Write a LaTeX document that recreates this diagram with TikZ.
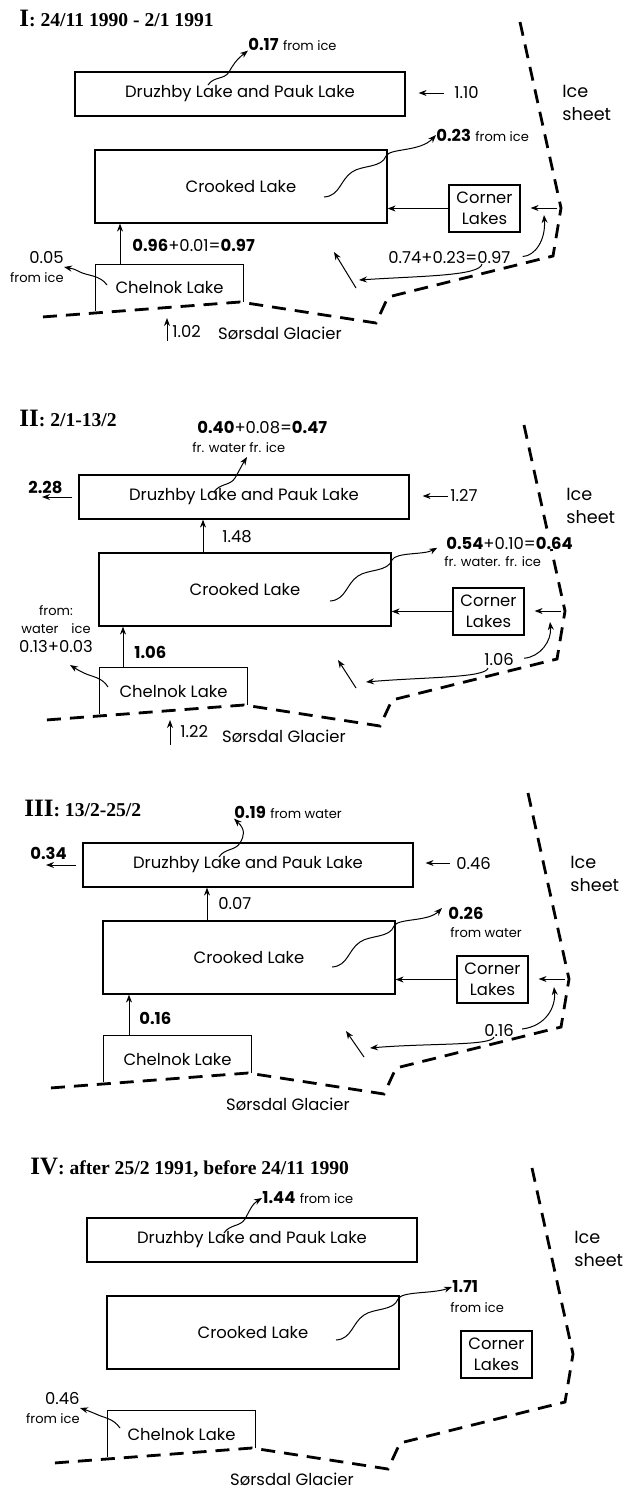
\documentclass[tikz,border=0pt]{standalone}
\usepackage{fontspec}
\setmainfont{Poppins}
\newfontfamily\titlefont{Liberation Serif}
\usetikzlibrary{arrows.meta}
\newcommand\lakefont{\fontsize{8.2}{10.3}\selectfont}
\newcommand\fsm{\fontsize{6.5}{8}\selectfont}
\newcommand\numfont{\fontsize{12.5}{12}\selectfont}
\tikzset{
  lake/.style={draw, line width=0.6pt, inner sep=0pt, font=\lakefont},
  lbl/.style={inner sep=0pt, font=\lakefont, anchor=west},
  ttl/.style={inner sep=0pt, anchor=west, font=\titlefont\bfseries\fontsize{9.8}{11}\selectfont},
  flow/.style={->, line width=0.5pt},
  icel/.style={line width=1.4pt, dash pattern=on 7pt off 4.5pt},
  >={Stealth[length=4pt,width=3pt]}
}
\begin{document}
\begin{tikzpicture}[x=0.5pt, y=-0.5pt]
\useasboundingbox (0,0) rectangle (624,1489);
% lakes, ice edge and glacier, same in all four panels
\foreach \p/\dx/\dy in {1/0/0, 2/4/403, 3/8/771, 4/12/1146} {
\begin{scope}[shift={(\dx,\dy)}]
\node[lake, minimum width=165pt, minimum height=22pt] (dr\p) at (240,94) {Druzhby Lake and Pauk Lake};
\node[lake, minimum width=146pt, minimum height=36.5pt] (cr\p) at (241,186.5) {Crooked Lake};
\node[lake, minimum width=35.5pt, minimum height=23.5pt, align=center] (co\p) at (484.5,208.5) {Corner\\Lakes};
\node[lbl, anchor=center, minimum width=73.5pt, minimum height=23pt] (ch\p) at (169.5,288) {Chelnok Lake};
\draw[line width=0.5pt] (ch\p.south west) |- (ch\p.north east) -- ([yshift=4.5pt]ch\p.south east);
\node[lbl, align=left, font=\fontsize{8.8}{11.5}\selectfont] (is\p) at (562,103) {Ice\\sheet};
\node[lbl, anchor=center] (sg\p) at (280,333) {Sørsdal Glacier};
\draw[icel] (520,22) -- (561,208) -- (553,256) -- (388,297) -- (376,323) -- (240,302) -- (42,317);
\end{scope}
}

% Panel I
\node[ttl] (t1) at (19,18) {{\numfont I}: 24/11 1990 - 2/1 1991};
\node[lbl] (a1) at (248,44) {\textbf{0.17} {\fsm from ice}};
\coordinate (w1) at (208,85);
\draw[flow] (w1) .. controls (214,76) and (224,80) .. (229,72) .. controls (233,65) and (236,60) .. (a1.south west);
\node[lbl] (b1) at (454,93) {1.10};
\draw[flow, shorten <=5pt, shorten >=6.5pt] (b1.west) -- (b1.west -| dr1.east);
\node[lbl] (c1) at (436,135) {\textbf{0.23} {\fsm from ice}};
\coordinate (w2) at (324,197);
\draw[flow] (w2) .. controls (340,196) and (340,180) .. (352,172) .. controls (362,165) and (382,168) .. (386,156) .. controls (390,148) and (420,152) .. (c1.west);
\draw[flow] (co1.west) -- (co1.west -| cr1.east);
\coordinate (e1) at (557,208);
\draw[flow, shorten >=5pt] (e1) -- (e1 -| co1.east);
\node[lbl] (d1) at (388,257) {0.74+0.23=0.97};
\coordinate (e2) at (544,215);
\draw[flow, shorten <=6pt] (d1.east) .. controls (535,256) and (546,240) .. (e2);
\coordinate (e3) at (482,264);
\coordinate (e4) at (359,280);
\draw[flow] (e3) .. controls (480,276) and (420,276) .. (e4);
\coordinate (e5) at (356,288);
\coordinate (e6) at (334,252);
\draw[flow] (e5) -- (e6);
\node[lbl] (f1) at (132,245) {\textbf{0.96}+0.01=\textbf{0.97}};
\coordinate (u1) at (120,265);
\draw[flow] (u1) -- (u1 |- cr1.south);
\node[lbl, align=right, anchor=east, font=\fontsize{8.2}{9.5}\selectfont] (g1) at (64,267) {0.05\\{\fsm from ice}};
\coordinate (w3) at (107,285);
\draw[flow] (w3) .. controls (100,275) and (88,276) .. (80,272) .. controls (74,269) .. (g1.east);
\node[lbl] (h1) at (172,332) {1.02};
\coordinate (e7) at (167,341);
\coordinate (e8) at (167,318);
\draw[flow] (e7) -- (e8);

% Panel II
\begin{scope}[shift={(4,403)}]
\node[ttl] (t2) at (15,15) {{\numfont II}: 2/1-13/2};
\node[lbl] (a2) at (193,25) {\textbf{0.40}+0.08=\textbf{0.47}};
\node[lbl, font=\fsm] (a2b) at (188,45) {fr. water fr. ice};
\coordinate (w4) at (210,89);
\coordinate (e9) at (243,54);
\draw[flow] (w4) .. controls (216,80) and (226,83) .. (231,75) .. controls (235,68) and (238,62) .. (e9);
\node[lbl] (b2) at (24,84) {\textbf{2.28}};
\coordinate (o2) at (38,94);
\draw[flow, shorten <=3pt] (dr2.west) -- (o2);
\node[lbl] (c2) at (446,93) {1.27};
\draw[flow, shorten <=1pt, shorten >=6.5pt] (c2.west) -- (c2.west -| dr2.east);
\coordinate (u2) at (199,150);
\draw[flow] (u2) -- (u2 |- dr2.south);
\node[lbl] (d2) at (218,134) {1.48};
% label sits in a gap of the ice edge
\node[lbl, fill=white] (f2) at (442,140) {\textbf{0.54}+0.10=\textbf{0.64}};
\node[lbl, font=\fsm] (f2b) at (440,159) {fr. water. fr. ice};
\coordinate (w5) at (326,198);
\draw[flow, shorten >=5pt] (w5) .. controls (342,197) and (342,181) .. (354,173) .. controls (364,166) and (384,169) .. (388,157) .. controls (392,149) and (420,152) .. (f2.west);
\draw[flow] (co2.west) -- (co2.west -| cr2.east);
\coordinate (e10) at (557,208);
\draw[flow, shorten >=5pt] (e10) -- (e10 -| co2.east);
\node[lbl, align=center, anchor=center, font=\fontsize{8.2}{9.3}\selectfont] (g2) at (52,226) {{\fsm from:}\\{\fsm water\quad ice}\\0.13+0.03};
\coordinate (w6) at (104,284);
\coordinate (e11) at (66,262);
\draw[flow] (w6) .. controls (98,274) and (88,274) .. (80,270) .. controls (74,267) .. (e11);
\coordinate (u3) at (119,265);
\draw[flow] (u3) -- (u3 |- cr2.south);
\node[lbl] (h2) at (130,249) {\textbf{1.06}};
\node[lbl] (k2) at (480,256) {1.06};
\coordinate (e12) at (546,219);
\draw[flow, shorten <=5pt] (k2.east) .. controls (536,254) and (548,238) .. (e12);
\coordinate (e13) at (484,265);
\coordinate (e14) at (362,279);
\draw[flow] (e13) .. controls (482,275) and (420,274) .. (e14);
\coordinate (e15) at (352,285);
\coordinate (e16) at (334,257);
\draw[flow] (e15) -- (e16);
\node[lbl] (m2) at (176,329) {1.22};
\coordinate (e17) at (166,342);
\coordinate (e18) at (166,317);
\draw[flow] (e17) -- (e18);
\end{scope}

% Panel III
\begin{scope}[shift={(8,771)}]
\node[ttl] (t3) at (16,37) {{\numfont III}: 13/2-25/2};
\node[lbl] (a3) at (226,41) {\textbf{0.19} {\fsm from water}};
\coordinate (w7) at (211,86);
\draw[flow] (w7) .. controls (217,77) and (227,80) .. (232,72) .. controls (236,65) and (238,59) .. (a3.south west);
\node[lbl] (b3) at (22,82) {\textbf{0.34}};
\coordinate (o3) at (38,94);
\draw[flow, shorten <=3pt] (dr3.west) -- (o3);
\node[lbl] (c3) at (448,92) {0.46};
\draw[flow, shorten <=3pt, shorten >=6pt] (c3.west) -- (c3.west -| dr3.east);
\coordinate (u4) at (199,150);
\draw[flow] (u4) -- (u4 |- dr3.south);
\node[lbl] (d3) at (210,133) {0.07};
\node[lbl] (f3) at (440,142) {\textbf{0.26}};
\node[lbl, font=\fsm] (f3b) at (442,162) {from water};
\coordinate (w8) at (324,196);
\coordinate (e19) at (434,137);
\draw[flow] (w8) .. controls (340,195) and (340,179) .. (352,171) .. controls (362,164) and (382,167) .. (386,155) .. controls (390,147) and (420,151) .. (e19);
\draw[flow] (co3.west) -- (co3.west -| cr3.east);
\coordinate (e20) at (557,208);
\draw[flow, shorten >=5pt] (e20) -- (e20 -| co3.east);
\coordinate (u5) at (121,265);
\draw[flow] (u5) -- (u5 |- cr3.south);
\node[lbl] (h3) at (131,247) {\textbf{0.16}};
\node[lbl] (k3) at (476,259) {0.16};
\coordinate (e21) at (546,216);
\draw[flow, shorten <=4pt] (k3.east) .. controls (538,255) and (548,236) .. (e21);
\coordinate (e22) at (486,266);
\coordinate (e23) at (362,277);
\draw[flow] (e22) .. controls (484,275) and (420,272) .. (e23);
\coordinate (e24) at (356,286);
\coordinate (e25) at (338,260);
\draw[flow] (e24) -- (e25);
\end{scope}

% Panel IV
\begin{scope}[shift={(12,1146)}]
\node[ttl] (t4) at (18,22) {{\numfont IV}: after 25/2 1991, before 24/11 1990};
\node[lbl] (a4) at (250,52) {\textbf{1.44} {\fsm from ice}};
\coordinate (w9) at (212,87);
\draw[flow] (w9) .. controls (218,78) and (228,81) .. (233,73) .. controls (237,66) and (240,58) .. (a4.west);
\node[lbl] (f4) at (440,141) {\textbf{1.71}};
\node[lbl, font=\fsm] (f4b) at (438,162) {from ice};
\coordinate (w10) at (324,194);
\draw[flow] (w10) .. controls (340,193) and (340,177) .. (352,169) .. controls (362,162) and (382,165) .. (386,153) .. controls (390,145) and (420,148) .. (f4.west);
\node[lbl, align=right, anchor=east, font=\fontsize{8.2}{9.5}\selectfont] (g4) at (68,262) {0.46\\{\fsm from ice}};
\coordinate (w11) at (108,282);
\draw[flow] (w11) .. controls (101,272) and (92,272) .. (84,268) .. controls (78,265) .. (g4.east);
\end{scope}
\end{tikzpicture}
\end{document}
